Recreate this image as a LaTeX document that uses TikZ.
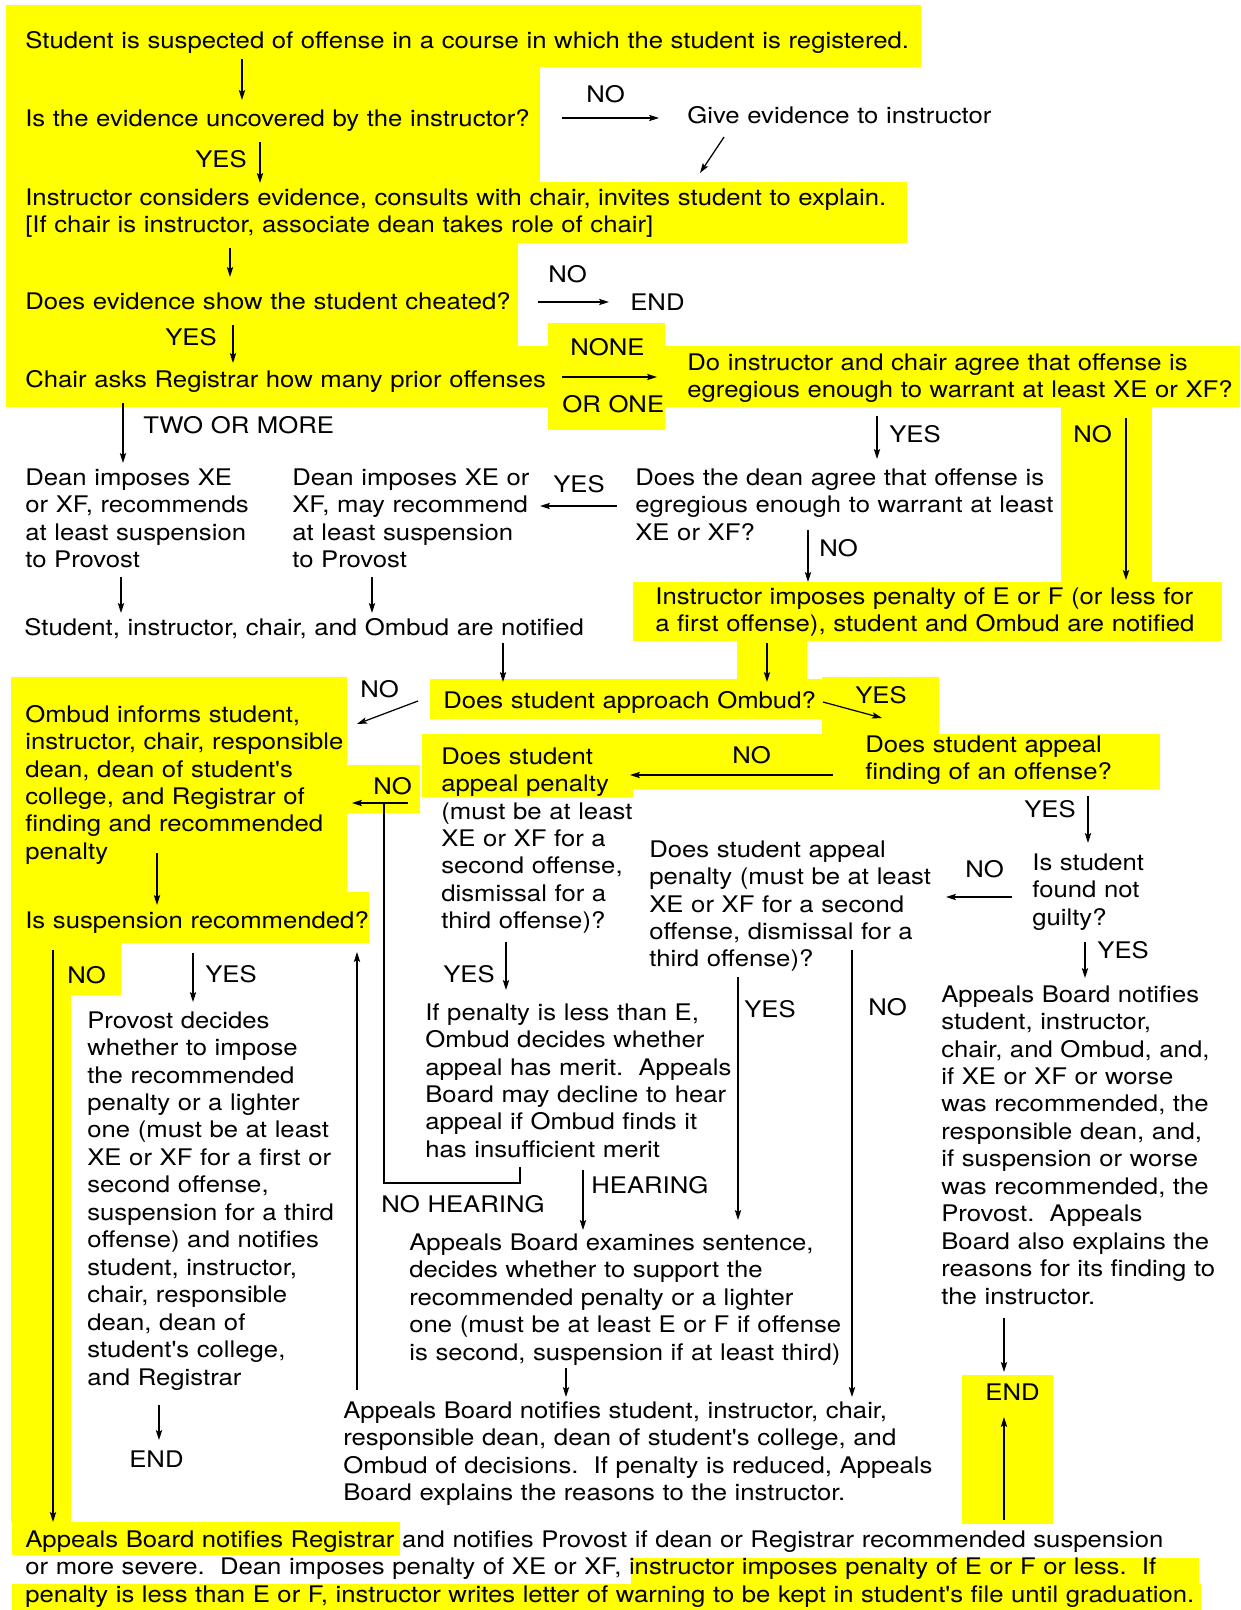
\documentclass[tikz,border=0pt]{standalone}
\usepackage{fontspec}
\setmainfont{TeX Gyre Heros}[FakeStretch=1.125, Ligatures=TeXOff]
\usetikzlibrary{arrows.meta}

\definecolor{hl}{HTML}{FFFF00}
\newcommand{\fs}{\fontsize{13}{15.65}\selectfont}

\tikzset{
  txt/.style={anchor=base west, inner sep=0pt, text width=24cm, align=left, font=\fs},
  hlbox/.style={fill=hl, draw=none},
  arr/.style={-{Stealth[length=5.7pt,width=3.6pt,inset=1.2pt]}, line width=0.7pt},
  ln/.style={line width=0.7pt}
}

\begin{document}
\begin{tikzpicture}[x=0.02cm,y=-0.02cm]
\useasboundingbox (0,0) rectangle (1241,1610);

% highlighted areas
\fill[hlbox] (6,5) rectangle (921,67);
\fill[hlbox] (6,67) rectangle (540,182);
\fill[hlbox] (6,182) rectangle (907,243);
\fill[hlbox] (6,243) rectangle (518,346);
\fill[hlbox] (6,346) rectangle (549,407);
\fill[hlbox] (548,323) rectangle (665,430);
\fill[hlbox] (665,346) rectangle (1240,407);
\fill[hlbox] (1061,407) rectangle (1152,582);
\fill[hlbox] (633,582) rectangle (1222,641);
\fill[hlbox] (737,641) rectangle (807,679);
\fill[hlbox] (430,679) rectangle (822,719);
\fill[hlbox] (822,677) rectangle (939,734);
\fill[hlbox] (633,734) rectangle (1160,789);
\fill[hlbox] (422,734) rectangle (633,797);
\fill[hlbox] (11,677) rectangle (347,892);
\fill[hlbox] (347,765) rectangle (420,813);
\fill[hlbox] (11,892) rectangle (369,943);
\fill[hlbox] (11,943) rectangle (121,995);
\fill[hlbox] (11,995) rectangle (71,1522);
\fill[hlbox] (12,1522) rectangle (400,1555);
\fill[hlbox] (631,1558) rectangle (1199,1584);
\fill[hlbox] (12,1584) rectangle (1201,1610);
\fill[hlbox] (962,1375) rectangle (1053,1524);

% steps
\node[txt] (suspect) at (25,48) {Student is suspected of offense in a course in which the student is registered.};
\node[txt] (uncovered) at (25,126) {Is the evidence uncovered by the instructor?};
\node[txt] (give) at (687,123) {Give evidence to instructor};
\node[txt] (considers) at (25,205) {Instructor considers evidence, consults with chair, invites student to explain.\\
{[}If chair is instructor, associate dean takes role of chair{]}};
\node[txt] (cheated) at (25,309) {Does evidence show the student cheated?};
\node[txt] (endA) at (630,310) {END};
\node[txt] (priors) at (25,387) {Chair asks Registrar how many prior offenses};
\node[txt] (agree) at (687,370) {Do instructor and chair agree that offense is\\
egregious enough to warrant at least XE or XF?};
\node[txt] (deanA) at (25,485) {Dean imposes XE\\
or XF, recommends\\
at least suspension\\
to Provost};
\node[txt] (deanB) at (292,485) {Dean imposes XE or\\
XF, may recommend\\
at least suspension\\
to Provost};
\node[txt] (deanagree) at (635,485) {Does the dean agree that offense is\\
egregious enough to warrant at least\\
XE or XF?};
\node[txt] (penaltyE) at (655,604) {Instructor imposes penalty of E or F (or less for\\
a first offense), student and Ombud are notified};
\node[txt] (notified) at (24,635) {Student, instructor, chair, and Ombud are notified};
\node[txt] (approach) at (443,708) {Does student approach Ombud?};
\node[txt] (informs) at (25,722) {Ombud informs student,\\
instructor, chair, responsible\\
dean, dean of student's\\
college, and Registrar of\\
finding and recommended\\
penalty};
\node[txt] (appfind) at (865,752) {Does student appeal\\
finding of an offense?};
\node[txt] (apppenA) at (441,764) {Does student\\
appeal penalty\\
(must be at least\\
XE or XF for a\\
second offense,\\
dismissal for a\\
third offense)?};
\node[txt] (apppenB) at (649,857) {Does student appeal\\
penalty (must be at least\\
XE or XF for a second\\
offense, dismissal for a\\
third offense)?};
\node[txt] (notguilty) at (1032,870) {Is student\\
found not\\
guilty?};
\node[txt] (suspension) at (25,928) {Is suspension recommended?};
\node[txt] (abfinding) at (941,1002) {Appeals Board notifies\\
student, instructor,\\
chair, and Ombud, and,\\
if XE or XF or worse\\
was recommended, the\\
responsible dean, and,\\
if suspension or worse\\
was recommended, the\\
Provost.\ \ Appeals\\
Board also explains the\\
reasons for its finding to\\
the instructor.};
\node[txt] (merit) at (425,1020) {If penalty is less than E,\\
Ombud decides whether\\
appeal has merit.\ \ Appeals\\
Board may decline to hear\\
appeal if Ombud finds it\\
has insufficient merit};
\node[txt] (provost) at (87,1028) {Provost decides\\
whether to impose\\
the recommended\\
penalty or a lighter\\
one (must be at least\\
XE or XF for a first or\\
second offense,\\
suspension for a third\\
offense) and notifies\\
student, instructor,\\
chair, responsible\\
dean, dean of\\
student's college,\\
and Registrar};
\node[txt] (examines) at (409,1250) {Appeals Board examines sentence,\\
decides whether to support the\\
recommended penalty or a lighter\\
one (must be at least E or F if offense\\
is second, suspension if at least third)};
\node[txt] (endB) at (985,1400) {END};
\node[txt] (abnotify) at (343,1418) {Appeals Board notifies student, instructor, chair,\\
responsible dean, dean of student's college, and\\
Ombud of decisions.\ \ If penalty is reduced, Appeals\\
Board explains the reasons to the instructor.};
\node[txt] (endC) at (129,1467) {END};
\node[txt] (registrar) at (25,1547) {Appeals Board notifies Registrar and notifies Provost if dean or Registrar recommended suspension\\
or more severe.\ \ Dean imposes penalty of XE or XF, instructor imposes penalty of E or F or less.\ \ If\\
penalty is less than E or F, instructor writes letter of warning to be kept in student's file until graduation.};

% answers
\node[txt] (noA) at (586,102) {NO};
\node[txt] (yesA) at (195,167) {YES};
\node[txt] (noB) at (548,282) {NO};
\node[txt] (yesB) at (165,345) {YES};
\node[txt] (none) at (570,355) {NONE};
\node[txt] (orone) at (562,412) {OR ONE};
\node[txt] (twomore) at (143,433) {TWO OR MORE};
\node[txt] (yesC) at (889,442) {YES};
\node[txt] (noC) at (1073,442) {NO};
\node[txt] (yesD) at (553,492) {YES};
\node[txt] (noD) at (819,556) {NO};
\node[txt] (noE) at (360,697) {NO};
\node[txt] (yesE) at (855,703) {YES};
\node[txt] (noF) at (732,763) {NO};
\node[txt] (noG) at (373,794) {NO};
\node[txt] (yesF) at (1024,817) {YES};
\node[txt] (noH) at (965,877) {NO};
\node[txt] (yesG) at (1097,958) {YES};
\node[txt] (noI) at (67,983) {NO};
\node[txt] (yesH) at (205,982) {YES};
\node[txt] (yesI) at (443,982) {YES};
\node[txt] (noJ) at (868,1015) {NO};
\node[txt] (yesJ) at (744,1017) {YES};
\node[txt] (hearing) at (591,1193) {HEARING};
\node[txt] (nohearing) at (381,1212) {NO HEARING};

% arrow ends
\coordinate (s1) at (242,59);    \coordinate (e1) at (242,100);
\coordinate (s2) at (562,118);   \coordinate (e2) at (659,118);
\coordinate (s3) at (724,137);   \coordinate (e3) at (700,173);
\coordinate (s4) at (260,142);   \coordinate (e4) at (260,183);
\coordinate (s5) at (230,248);   \coordinate (e5) at (230,277);
\coordinate (s6) at (538,302);   \coordinate (e6) at (609,302);
\coordinate (s7) at (233,325);   \coordinate (e7) at (233,363);
\coordinate (s8) at (562,377);   \coordinate (e8) at (657,377);
\coordinate (s9) at (123,403);   \coordinate (e9) at (123,463);
\coordinate (s10) at (877,416);  \coordinate (e10) at (877,459);
\coordinate (s11) at (1126,418); \coordinate (e11) at (1126,580);
\coordinate (s12) at (617,506);  \coordinate (e12) at (540,506);
\coordinate (s13) at (808,530);  \coordinate (e13) at (808,582);
\coordinate (s14) at (121,577);  \coordinate (e14) at (121,613);
\coordinate (s15) at (372,577);  \coordinate (e15) at (372,613);
\coordinate (s16) at (503,643);  \coordinate (e16) at (503,682);
\coordinate (s17) at (767,643);  \coordinate (e17) at (767,682);
\coordinate (s18) at (418,701);  \coordinate (e18) at (357,724);
\coordinate (s19) at (823,702);  \coordinate (e19) at (882,718);
\coordinate (s20) at (833,775);  \coordinate (e20) at (630,775);
\coordinate (s21) at (408,803);  \coordinate (e21) at (352,803);
\coordinate (s22) at (1088,796); \coordinate (e22) at (1088,843);
\coordinate (s23) at (1012,897); \coordinate (e23) at (946,897);
\coordinate (s24) at (157,853);  \coordinate (e24) at (157,905);
\coordinate (s25) at (53,950);   \coordinate (e25) at (53,1522);
\coordinate (s26) at (193,953);  \coordinate (e26) at (193,1002);
\coordinate (s27) at (357,1390); \coordinate (e27) at (357,952);
\coordinate (s28) at (506,942);  \coordinate (e28) at (506,990);
\coordinate (s29) at (1085,942); \coordinate (e29) at (1085,978);
\coordinate (s30) at (738,977);  \coordinate (e30) at (738,1220);
\coordinate (s31) at (852,950);  \coordinate (e31) at (852,1397);
\coordinate (s32) at (583,1170); \coordinate (e32) at (583,1230);
\coordinate (s33) at (566,1368); \coordinate (e33) at (566,1397);
\coordinate (s34) at (1004,1318); \coordinate (e34) at (1004,1372);
\coordinate (s35) at (159,1405); \coordinate (e35) at (159,1440);
\coordinate (s36) at (1004,1520); \coordinate (e36) at (1004,1417);
\coordinate (nh1) at (520,1167); \coordinate (nh2) at (520,1183);
\coordinate (nh3) at (384,1183); \coordinate (nh4) at (384,803);

\foreach \i in {1,...,36}
  \draw[arr] (s\i) -- (e\i);
\draw[ln] (nh1) -- (nh2) -- (nh3) -- (nh4);

\end{tikzpicture}
\end{document}
